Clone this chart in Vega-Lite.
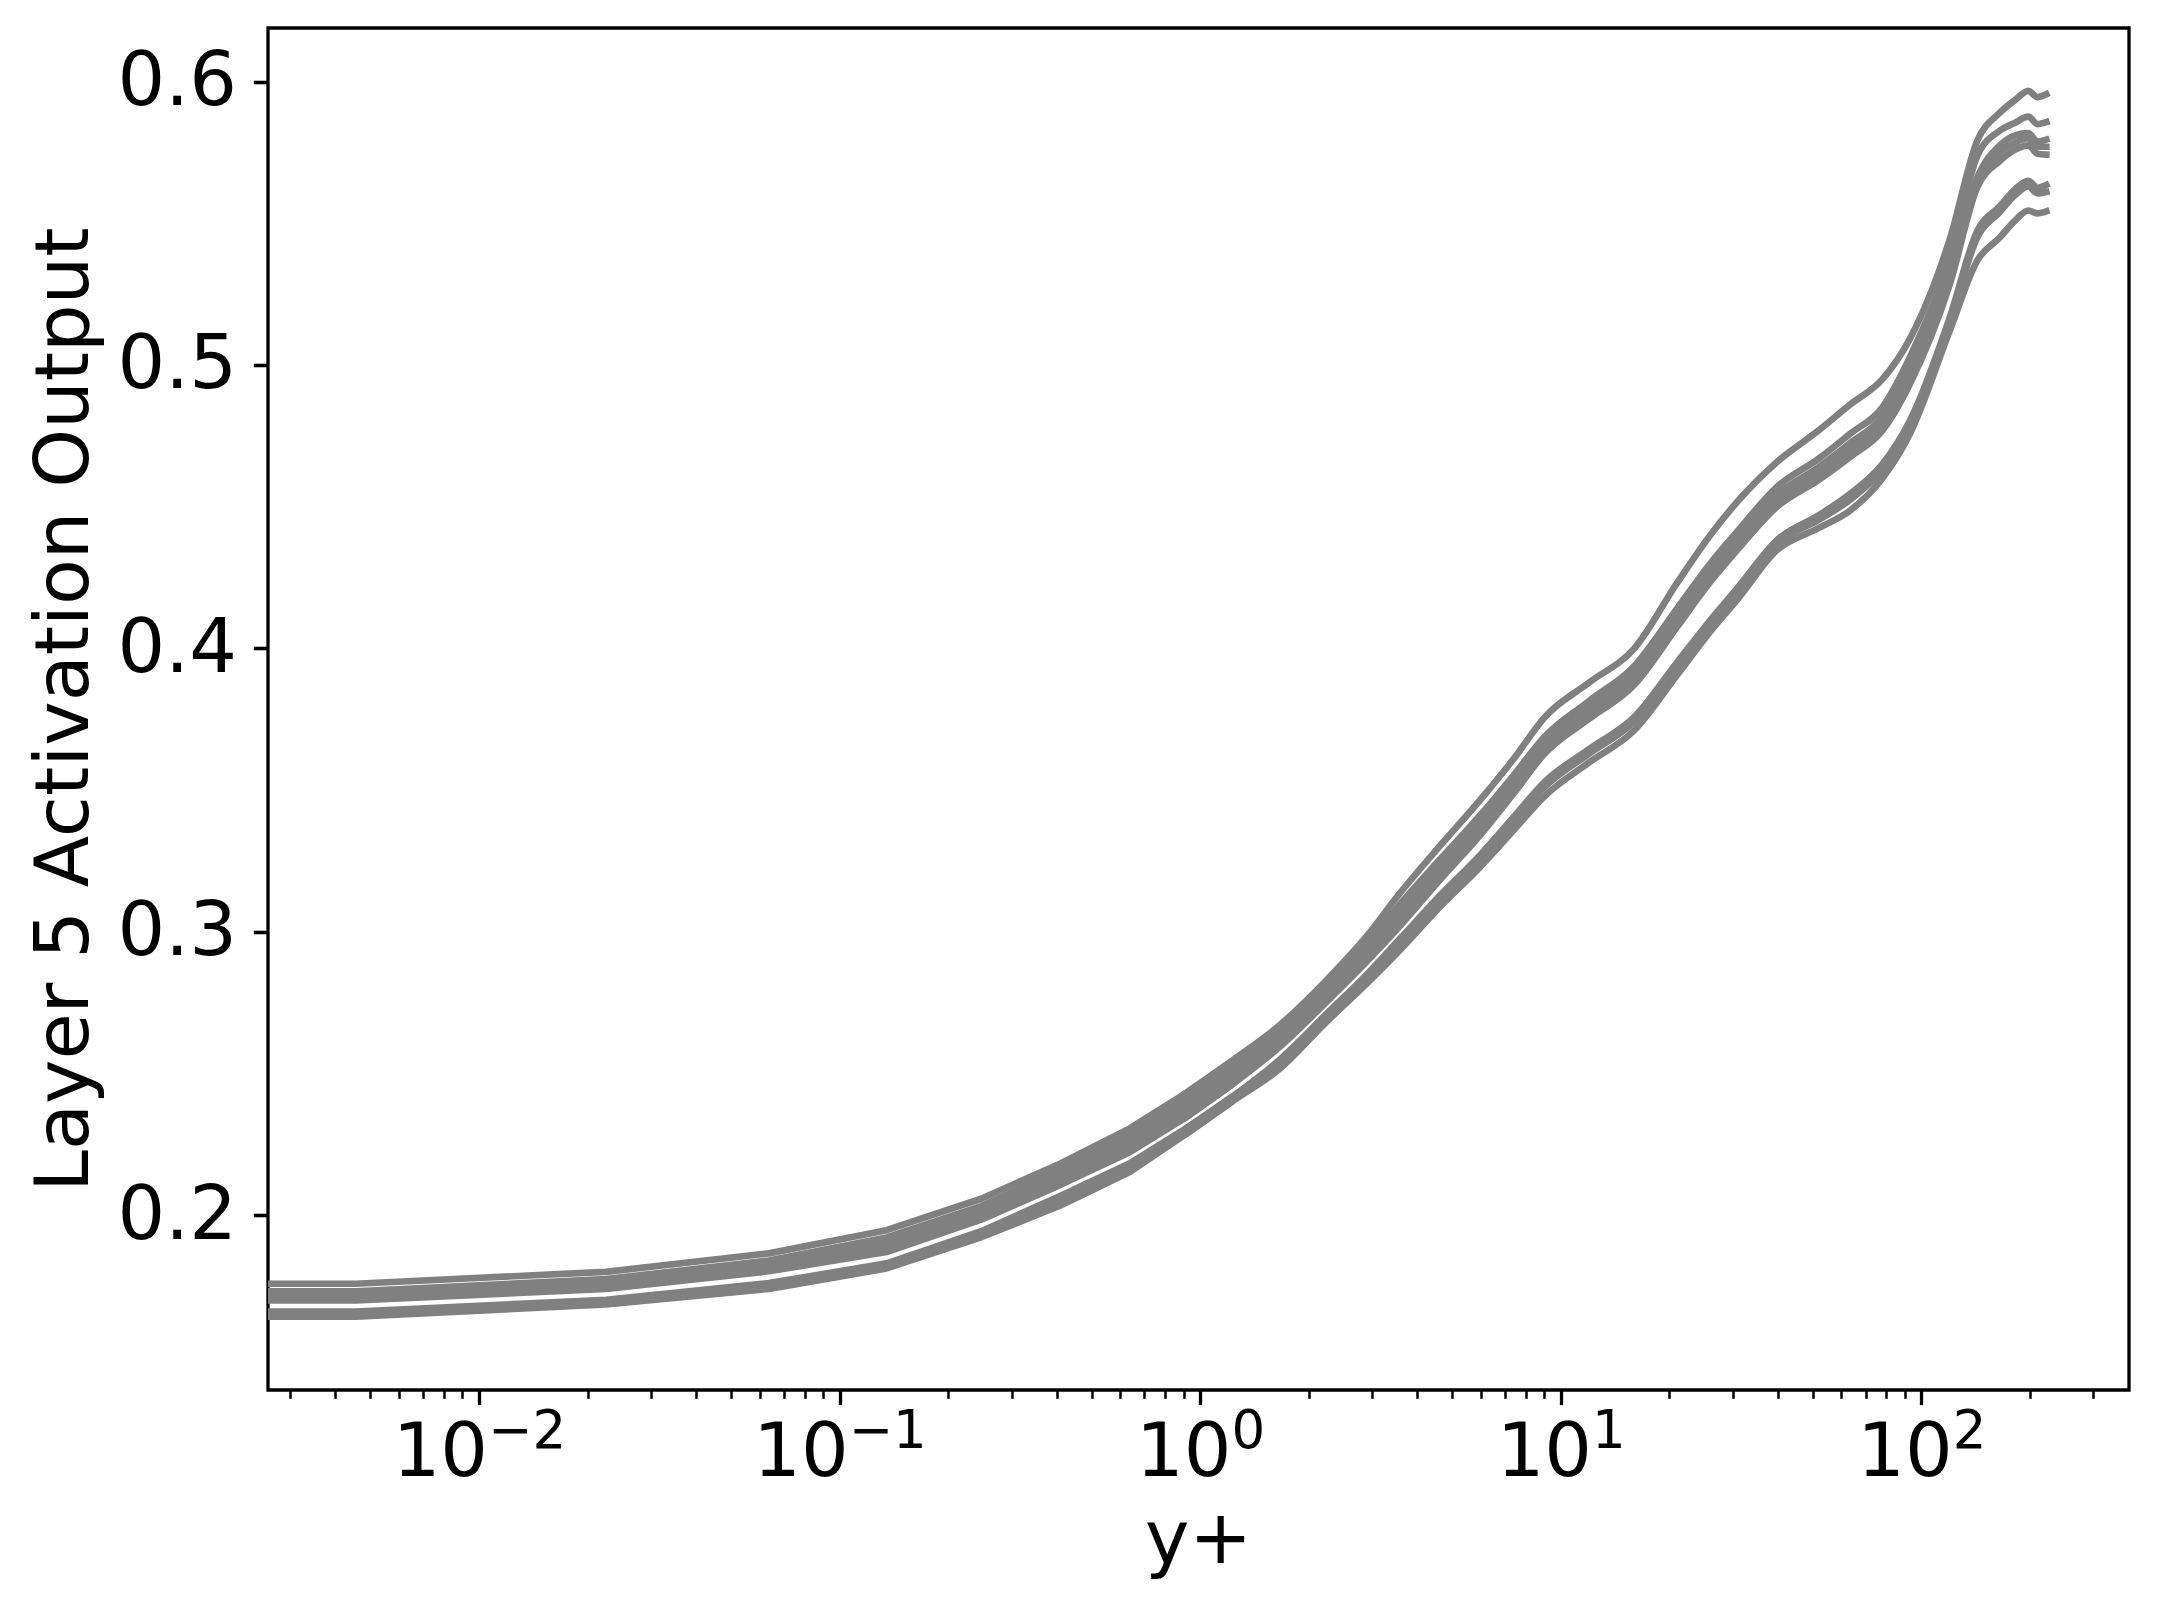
{
"$schema": "https://vega.github.io/schema/vega-lite/v6.json",
"width": 1861, "height": 1362,
"autosize": {"type": "none"},
"padding": {"left": 268, "top": 28, "right": 29, "bottom": 221},
"background": "white",
"config": {
  "view": {"stroke": "black", "strokeWidth": 3.3},
  "font": "DejaVu Sans",
  "axis": {"grid": false, "domain": false, "tickColor": "black", "labelColor": "black", "titleColor": "black", "labelFont": "DejaVu Sans", "titleFont": "DejaVu Sans", "titleFontWeight": "normal", "labelOverlap": false, "labelFlush": false, "labelBound": false}
},
"data": {"values": [
{"curve":"A1","yplus":0.0003,"act":0.1758},{"curve":"A1","yplus":0.00456,"act":0.1758},{"curve":"A1","yplus":0.0225,"act":0.1800},{"curve":"A1","yplus":0.0637,"act":0.1865},{"curve":"A1","yplus":0.135,"act":0.1947},{"curve":"A1","yplus":0.247,"act":0.2058},{"curve":"A1","yplus":0.41,"act":0.2182},{"curve":"A1","yplus":0.638,"act":0.2306},{"curve":"A1","yplus":0.916,"act":0.2432},{"curve":"A1","yplus":1.233,"act":0.2547},{"curve":"A1","yplus":1.66,"act":0.2670},{"curve":"A1","yplus":2.24,"act":0.2829},{"curve":"A1","yplus":2.9,"act":0.2985},{"curve":"A1","yplus":3.58,"act":0.3136},{"curve":"A1","yplus":4.6,"act":0.3300},{"curve":"A1","yplus":5.97,"act":0.3464},{"curve":"A1","yplus":7.4,"act":0.3610},{"curve":"A1","yplus":9.04,"act":0.3758},{"curve":"A1","yplus":12,"act":0.3880},{"curve":"A1","yplus":16,"act":0.4000},{"curve":"A1","yplus":21,"act":0.4230},{"curve":"A1","yplus":26,"act":0.4400},{"curve":"A1","yplus":31,"act":0.4520},{"curve":"A1","yplus":39.7,"act":0.4657},{"curve":"A1","yplus":52,"act":0.4770},{"curve":"A1","yplus":63.4,"act":0.4860},{"curve":"A1","yplus":78,"act":0.4950},{"curve":"A1","yplus":93,"act":0.5093},{"curve":"A1","yplus":120,"act":0.5445},{"curve":"A1","yplus":143,"act":0.5792},{"curve":"A1","yplus":165,"act":0.5890},{"curve":"A1","yplus":182,"act":0.5935},{"curve":"A1","yplus":198,"act":0.5967},{"curve":"A1","yplus":210,"act":0.5945},{"curve":"A1","yplus":222,"act":0.5955},
{"curve":"B1","yplus":0.0003,"act":0.1731},{"curve":"B1","yplus":0.00456,"act":0.1731},{"curve":"B1","yplus":0.0225,"act":0.1774},{"curve":"B1","yplus":0.0637,"act":0.1840},{"curve":"B1","yplus":0.135,"act":0.1921},{"curve":"B1","yplus":0.247,"act":0.2032},{"curve":"B1","yplus":0.41,"act":0.2160},{"curve":"B1","yplus":0.638,"act":0.2283},{"curve":"B1","yplus":0.916,"act":0.2407},{"curve":"B1","yplus":1.233,"act":0.2519},{"curve":"B1","yplus":1.66,"act":0.2649},{"curve":"B1","yplus":2.24,"act":0.2805},{"curve":"B1","yplus":2.9,"act":0.2955},{"curve":"B1","yplus":3.58,"act":0.3097},{"curve":"B1","yplus":4.6,"act":0.3252},{"curve":"B1","yplus":5.97,"act":0.3410},{"curve":"B1","yplus":7.4,"act":0.3552},{"curve":"B1","yplus":9.04,"act":0.3690},{"curve":"B1","yplus":12,"act":0.3815},{"curve":"B1","yplus":16,"act":0.3938},{"curve":"B1","yplus":21,"act":0.4140},{"curve":"B1","yplus":26,"act":0.4300},{"curve":"B1","yplus":31,"act":0.4415},{"curve":"B1","yplus":39.7,"act":0.4569},{"curve":"B1","yplus":52,"act":0.4670},{"curve":"B1","yplus":63.4,"act":0.4757},{"curve":"B1","yplus":78,"act":0.4851},{"curve":"B1","yplus":93,"act":0.5028},{"curve":"B1","yplus":120,"act":0.5380},{"curve":"B1","yplus":143,"act":0.5739},{"curve":"B1","yplus":165,"act":0.5827},{"curve":"B1","yplus":182,"act":0.5855},{"curve":"B1","yplus":198,"act":0.5876},{"curve":"B1","yplus":210,"act":0.5850},{"curve":"B1","yplus":222,"act":0.5857},
{"curve":"B2","yplus":0.0003,"act":0.1718},{"curve":"B2","yplus":0.00456,"act":0.1718},{"curve":"B2","yplus":0.0225,"act":0.1760},{"curve":"B2","yplus":0.0637,"act":0.1825},{"curve":"B2","yplus":0.135,"act":0.1901},{"curve":"B2","yplus":0.247,"act":0.2013},{"curve":"B2","yplus":0.41,"act":0.2139},{"curve":"B2","yplus":0.638,"act":0.2259},{"curve":"B2","yplus":0.916,"act":0.2383},{"curve":"B2","yplus":1.233,"act":0.2497},{"curve":"B2","yplus":1.66,"act":0.2627},{"curve":"B2","yplus":2.24,"act":0.2784},{"curve":"B2","yplus":2.9,"act":0.2931},{"curve":"B2","yplus":3.58,"act":0.3066},{"curve":"B2","yplus":4.6,"act":0.3223},{"curve":"B2","yplus":5.97,"act":0.3382},{"curve":"B2","yplus":7.4,"act":0.3526},{"curve":"B2","yplus":9.04,"act":0.3666},{"curve":"B2","yplus":12,"act":0.3790},{"curve":"B2","yplus":16,"act":0.3912},{"curve":"B2","yplus":21,"act":0.4114},{"curve":"B2","yplus":26,"act":0.4274},{"curve":"B2","yplus":31,"act":0.4389},{"curve":"B2","yplus":39.7,"act":0.4541},{"curve":"B2","yplus":52,"act":0.4640},{"curve":"B2","yplus":63.4,"act":0.4724},{"curve":"B2","yplus":78,"act":0.4818},{"curve":"B2","yplus":93,"act":0.4990},{"curve":"B2","yplus":120,"act":0.5342},{"curve":"B2","yplus":143,"act":0.5663},{"curve":"B2","yplus":165,"act":0.5775},{"curve":"B2","yplus":182,"act":0.5810},{"curve":"B2","yplus":198,"act":0.5818},{"curve":"B2","yplus":210,"act":0.5788},{"curve":"B2","yplus":222,"act":0.5795},
{"curve":"B3","yplus":0.0003,"act":0.1709},{"curve":"B3","yplus":0.00456,"act":0.1709},{"curve":"B3","yplus":0.0225,"act":0.1750},{"curve":"B3","yplus":0.0637,"act":0.1813},{"curve":"B3","yplus":0.135,"act":0.1885},{"curve":"B3","yplus":0.247,"act":0.1998},{"curve":"B3","yplus":0.41,"act":0.2123},{"curve":"B3","yplus":0.638,"act":0.2240},{"curve":"B3","yplus":0.916,"act":0.2364},{"curve":"B3","yplus":1.233,"act":0.2480},{"curve":"B3","yplus":1.66,"act":0.2610},{"curve":"B3","yplus":2.24,"act":0.2768},{"curve":"B3","yplus":2.9,"act":0.2913},{"curve":"B3","yplus":3.58,"act":0.3043},{"curve":"B3","yplus":4.6,"act":0.3202},{"curve":"B3","yplus":5.97,"act":0.3361},{"curve":"B3","yplus":7.4,"act":0.3507},{"curve":"B3","yplus":9.04,"act":0.3648},{"curve":"B3","yplus":12,"act":0.3771},{"curve":"B3","yplus":16,"act":0.3892},{"curve":"B3","yplus":21,"act":0.4095},{"curve":"B3","yplus":26,"act":0.4255},{"curve":"B3","yplus":31,"act":0.4370},{"curve":"B3","yplus":39.7,"act":0.4520},{"curve":"B3","yplus":52,"act":0.4618},{"curve":"B3","yplus":63.4,"act":0.4700},{"curve":"B3","yplus":78,"act":0.4794},{"curve":"B3","yplus":93,"act":0.4962},{"curve":"B3","yplus":120,"act":0.5314},{"curve":"B3","yplus":143,"act":0.5645},{"curve":"B3","yplus":165,"act":0.5750},{"curve":"B3","yplus":182,"act":0.5785},{"curve":"B3","yplus":198,"act":0.5800},{"curve":"B3","yplus":210,"act":0.5770},{"curve":"B3","yplus":222,"act":0.5770},
{"curve":"B4","yplus":0.0003,"act":0.1699},{"curve":"B4","yplus":0.00456,"act":0.1699},{"curve":"B4","yplus":0.0225,"act":0.1740},{"curve":"B4","yplus":0.0637,"act":0.1802},{"curve":"B4","yplus":0.135,"act":0.1870},{"curve":"B4","yplus":0.247,"act":0.1984},{"curve":"B4","yplus":0.41,"act":0.2107},{"curve":"B4","yplus":0.638,"act":0.2222},{"curve":"B4","yplus":0.916,"act":0.2346},{"curve":"B4","yplus":1.233,"act":0.2463},{"curve":"B4","yplus":1.66,"act":0.2593},{"curve":"B4","yplus":2.24,"act":0.2752},{"curve":"B4","yplus":2.9,"act":0.2895},{"curve":"B4","yplus":3.58,"act":0.3020},{"curve":"B4","yplus":4.6,"act":0.3180},{"curve":"B4","yplus":5.97,"act":0.3340},{"curve":"B4","yplus":7.4,"act":0.3488},{"curve":"B4","yplus":9.04,"act":0.3630},{"curve":"B4","yplus":12,"act":0.3752},{"curve":"B4","yplus":16,"act":0.3872},{"curve":"B4","yplus":21,"act":0.4075},{"curve":"B4","yplus":26,"act":0.4235},{"curve":"B4","yplus":31,"act":0.4350},{"curve":"B4","yplus":39.7,"act":0.4499},{"curve":"B4","yplus":52,"act":0.4595},{"curve":"B4","yplus":63.4,"act":0.4675},{"curve":"B4","yplus":78,"act":0.4769},{"curve":"B4","yplus":93,"act":0.4934},{"curve":"B4","yplus":120,"act":0.5286},{"curve":"B4","yplus":143,"act":0.5628},{"curve":"B4","yplus":165,"act":0.5720},{"curve":"B4","yplus":182,"act":0.5760},{"curve":"B4","yplus":198,"act":0.5775},{"curve":"B4","yplus":210,"act":0.5745},{"curve":"B4","yplus":222,"act":0.5742},
{"curve":"C1","yplus":0.0003,"act":0.1660},{"curve":"C1","yplus":0.00456,"act":0.1660},{"curve":"C1","yplus":0.0225,"act":0.1701},{"curve":"C1","yplus":0.0637,"act":0.1760},{"curve":"C1","yplus":0.135,"act":0.1830},{"curve":"C1","yplus":0.247,"act":0.1943},{"curve":"C1","yplus":0.41,"act":0.2068},{"curve":"C1","yplus":0.638,"act":0.2183},{"curve":"C1","yplus":0.916,"act":0.2307},{"curve":"C1","yplus":1.233,"act":0.2420},{"curve":"C1","yplus":1.66,"act":0.2548},{"curve":"C1","yplus":2.24,"act":0.2710},{"curve":"C1","yplus":2.9,"act":0.2850},{"curve":"C1","yplus":3.58,"act":0.2975},{"curve":"C1","yplus":4.6,"act":0.3125},{"curve":"C1","yplus":5.97,"act":0.3270},{"curve":"C1","yplus":7.4,"act":0.3405},{"curve":"C1","yplus":9.04,"act":0.3530},{"curve":"C1","yplus":12,"act":0.3645},{"curve":"C1","yplus":16,"act":0.3758},{"curve":"C1","yplus":21,"act":0.3950},{"curve":"C1","yplus":26,"act":0.4100},{"curve":"C1","yplus":31,"act":0.4215},{"curve":"C1","yplus":39.7,"act":0.4381},{"curve":"C1","yplus":52,"act":0.4470},{"curve":"C1","yplus":63.4,"act":0.4545},{"curve":"C1","yplus":78,"act":0.4650},{"curve":"C1","yplus":93,"act":0.4804},{"curve":"C1","yplus":120,"act":0.5169},{"curve":"C1","yplus":143,"act":0.5474},{"curve":"C1","yplus":165,"act":0.5560},{"curve":"C1","yplus":182,"act":0.5620},{"curve":"C1","yplus":198,"act":0.5650},{"curve":"C1","yplus":210,"act":0.5625},{"curve":"C1","yplus":222,"act":0.5635},
{"curve":"C2","yplus":0.0003,"act":0.1654},{"curve":"C2","yplus":0.00456,"act":0.1654},{"curve":"C2","yplus":0.0225,"act":0.1695},{"curve":"C2","yplus":0.0637,"act":0.1753},{"curve":"C2","yplus":0.135,"act":0.1824},{"curve":"C2","yplus":0.247,"act":0.1936},{"curve":"C2","yplus":0.41,"act":0.2056},{"curve":"C2","yplus":0.638,"act":0.2172},{"curve":"C2","yplus":0.916,"act":0.2300},{"curve":"C2","yplus":1.233,"act":0.2414},{"curve":"C2","yplus":1.66,"act":0.2537},{"curve":"C2","yplus":2.24,"act":0.2700},{"curve":"C2","yplus":2.9,"act":0.2839},{"curve":"C2","yplus":3.58,"act":0.2961},{"curve":"C2","yplus":4.6,"act":0.3111},{"curve":"C2","yplus":5.97,"act":0.3255},{"curve":"C2","yplus":7.4,"act":0.3389},{"curve":"C2","yplus":9.04,"act":0.3512},{"curve":"C2","yplus":12,"act":0.3629},{"curve":"C2","yplus":16,"act":0.3742},{"curve":"C2","yplus":21,"act":0.3934},{"curve":"C2","yplus":26,"act":0.4086},{"curve":"C2","yplus":31,"act":0.4201},{"curve":"C2","yplus":39.7,"act":0.4369},{"curve":"C2","yplus":52,"act":0.4454},{"curve":"C2","yplus":63.4,"act":0.4524},{"curve":"C2","yplus":78,"act":0.4632},{"curve":"C2","yplus":93,"act":0.4788},{"curve":"C2","yplus":120,"act":0.5153},{"curve":"C2","yplus":143,"act":0.5451},{"curve":"C2","yplus":165,"act":0.5540},{"curve":"C2","yplus":182,"act":0.5600},{"curve":"C2","yplus":198,"act":0.5630},{"curve":"C2","yplus":210,"act":0.5605},{"curve":"C2","yplus":222,"act":0.5610},
{"curve":"C3","yplus":0.0003,"act":0.1642},{"curve":"C3","yplus":0.00456,"act":0.1642},{"curve":"C3","yplus":0.0225,"act":0.1685},{"curve":"C3","yplus":0.0637,"act":0.1740},{"curve":"C3","yplus":0.135,"act":0.1812},{"curve":"C3","yplus":0.247,"act":0.1922},{"curve":"C3","yplus":0.41,"act":0.2034},{"curve":"C3","yplus":0.638,"act":0.2152},{"curve":"C3","yplus":0.916,"act":0.2287},{"curve":"C3","yplus":1.233,"act":0.2403},{"curve":"C3","yplus":1.66,"act":0.2516},{"curve":"C3","yplus":2.24,"act":0.2682},{"curve":"C3","yplus":2.9,"act":0.2818},{"curve":"C3","yplus":3.58,"act":0.2935},{"curve":"C3","yplus":4.6,"act":0.3085},{"curve":"C3","yplus":5.97,"act":0.3228},{"curve":"C3","yplus":7.4,"act":0.3358},{"curve":"C3","yplus":9.04,"act":0.3480},{"curve":"C3","yplus":12,"act":0.3598},{"curve":"C3","yplus":16,"act":0.3711},{"curve":"C3","yplus":21,"act":0.3905},{"curve":"C3","yplus":26,"act":0.4060},{"curve":"C3","yplus":31,"act":0.4175},{"curve":"C3","yplus":39.7,"act":0.4346},{"curve":"C3","yplus":52,"act":0.4425},{"curve":"C3","yplus":63.4,"act":0.4486},{"curve":"C3","yplus":78,"act":0.4600},{"curve":"C3","yplus":93,"act":0.4758},{"curve":"C3","yplus":120,"act":0.5122},{"curve":"C3","yplus":143,"act":0.5369},{"curve":"C3","yplus":165,"act":0.5450},{"curve":"C3","yplus":182,"act":0.5510},{"curve":"C3","yplus":198,"act":0.5545},{"curve":"C3","yplus":210,"act":0.5535},{"curve":"C3","yplus":222,"act":0.5542}
]},
"layer": [
  {
    "transform": [{"filter": "datum.yplus <= 1.3"}],
    "mark": {"type": "line", "color": "#808080", "strokeWidth": 6.7, "clip": true, "strokeCap": "butt", "strokeJoin": "round"},
    "encoding": {
      "x": {"field": "yplus", "type": "quantitative", "scale": {"type": "log", "domain": [0.0026, 376.5], "nice": false, "zero": false}, "axis": null},
      "y": {"field": "act", "type": "quantitative", "scale": {"domain": [0.1383, 0.6189], "nice": false, "zero": false},
        "axis": {"orient": "left", "values": [0.2, 0.3, 0.4, 0.5, 0.6], "format": ".1f",
          "ticks": true, "tickSize": 14.6, "tickWidth": 3.3, "labelFontSize": 75, "labelPadding": 17,
          "title": "Layer 5 Activation Output", "titleFontSize": 75, "titleX": -181, "titleY": 681, "titleAngle": 270, "titleAlign": "center", "titleBaseline": "alphabetic"}},
      "detail": {"field": "curve", "type": "nominal"}
    }
  },
  {
    "transform": [{"filter": "datum.yplus >= 0.9"}],
    "mark": {"type": "line", "color": "#808080", "strokeWidth": 6.7, "clip": true, "strokeCap": "square", "strokeJoin": "round", "interpolate": "monotone"},
    "encoding": {
      "x": {"field": "yplus", "type": "quantitative", "axis": null},
      "y": {"field": "act", "type": "quantitative", "axis": null},
      "detail": {"field": "curve", "type": "nominal"}
    }
  },
  {
    "mark": {"type": "point", "opacity": 0, "clip": true},
    "encoding": {
      "y": {"field": "act", "type": "quantitative",
        "axis": {"orient": "left", "values": [0.2, 0.3, 0.4, 0.5, 0.6], "labels": false, "ticks": true, "tickSize": 14.6, "tickWidth": 3.3, "tickColor": "black", "title": null}}
    }
  },
  {
    "mark": {"type": "point", "opacity": 0, "clip": true},
    "encoding": {
      "x": {"field": "yplus", "type": "quantitative",
        "axis": {"orient": "bottom", "values": [0.01, 0.1, 1, 10, 100], "labels": false, "ticks": true, "tickSize": 14.6, "tickWidth": 3.3,
          "title": "y+", "titleFontSize": 75, "titleX": 930, "titleY": 172, "titleAlign": "center", "titleBaseline": "alphabetic"}}
    }
  },
  {
    "mark": {"type": "point", "opacity": 0, "clip": true},
    "encoding": {
      "x": {"field": "yplus", "type": "quantitative",
        "axis": {"orient": "bottom", "values": [0.003,0.004,0.005,0.006,0.007,0.008,0.009,0.02,0.03,0.04,0.05,0.06,0.07,0.08,0.09,0.2,0.3,0.4,0.5,0.6,0.7,0.8,0.9,2,3,4,5,6,7,8,9,20,30,40,50,60,70,80,90,200,300],
          "labels": false, "ticks": true, "tickSize": 8.3, "tickWidth": 2.5, "title": null}}
    }
  },
  {
    "mark": {"type": "point", "opacity": 0, "clip": true},
    "encoding": {
      "x": {"field": "yplus", "type": "quantitative",
        "axis": {"orient": "bottom", "values": [0.01, 0.1], "ticks": false, "labelExpr": "'10'", "labelAlign": "right", "labelBaseline": "alphabetic", "labelOffset": 8.6, "labelPadding": 85, "labelFontSize": 75, "title": null}}
    }
  },
  {
    "mark": {"type": "point", "opacity": 0, "clip": true},
    "encoding": {
      "x": {"field": "yplus", "type": "quantitative",
        "axis": {"orient": "bottom", "values": [1, 10, 100], "ticks": false, "labelExpr": "'10'", "labelAlign": "right", "labelBaseline": "alphabetic", "labelOffset": 30.8, "labelPadding": 85, "labelFontSize": 75, "title": null}}
    }
  },
  {
    "mark": {"type": "point", "opacity": 0, "clip": true},
    "encoding": {
      "x": {"field": "yplus", "type": "quantitative",
        "axis": {"orient": "bottom", "values": [0.01, 0.1], "ticks": false, "labelExpr": "datum.value < 0.05 ? '−2' : '−1'", "labelAlign": "left", "labelBaseline": "alphabetic", "labelOffset": 8.6, "labelPadding": 57, "labelFontSize": 53, "title": null}}
    }
  },
  {
    "mark": {"type": "point", "opacity": 0, "clip": true},
    "encoding": {
      "x": {"field": "yplus", "type": "quantitative",
        "axis": {"orient": "bottom", "values": [1, 10, 100], "ticks": false, "labelExpr": "datum.value < 5 ? '0' : datum.value < 50 ? '1' : '2'", "labelAlign": "left", "labelBaseline": "alphabetic", "labelOffset": 30.8, "labelPadding": 57, "labelFontSize": 53, "title": null}}
    }
  }
],
"resolve": {"axis": {"x": "independent", "y": "independent"}}
}
